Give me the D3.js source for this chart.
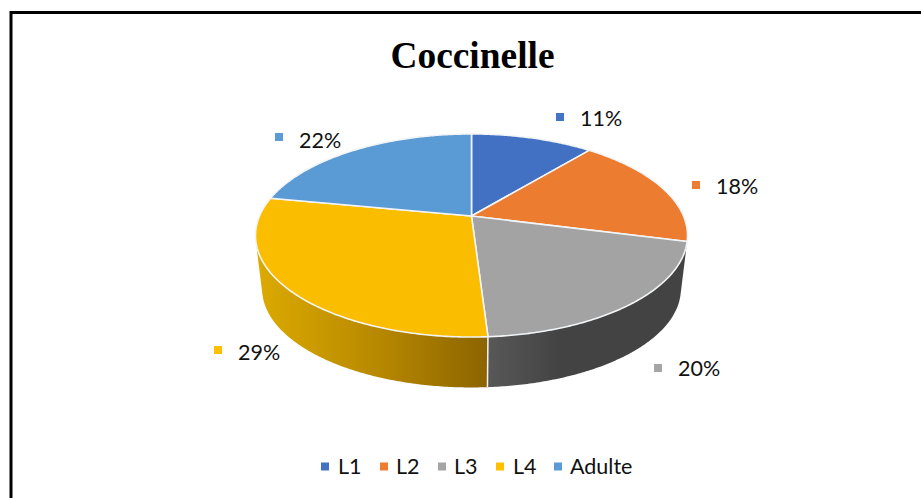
<!DOCTYPE html>
<html>
<head>
<meta charset="utf-8">
<style>
html,body{margin:0;padding:0;background:#fff}
svg{display:block}
</style>
<script src="https://cdn.jsdelivr.net/npm/d3@7"></script>
</head>
<body>
<svg id="c" width="921" height="498"></svg>
<script>
const titleText = "Coccinelle";
const categories = ["L1","L2","L3","L4","Adulte"];
const percents = [11,18,20,29,22];
const colors = ["#4472c4","#ed7d31","#a5a5a5","#ffc000","#5b9bd5"];
const topColors = ["#4270c2","#ec7c30","#a3a3a3","#fbbd00","#5a9ad5"];

const W = 921, H = 498;
const svg = d3.select("#c").attr("viewBox",[0,0,W,H]);

// Frame (left and top rules only are visible)
svg.append("path").attr("d","M11 498V12.5H921").attr("fill","none").attr("stroke","#000").attr("stroke-width",3);

// Pie angles from the data
const pie = d3.pie().sort(null).value(d=>d);
const arcs = pie(percents);

// Perspective projection of a tilted disc
const cx = 471.5, k = -0.192;
function proj(theta, ring){
  const X = Math.sin(theta), Y = -Math.cos(theta), den = 1 + k*Y;
  return ring === "top"
    ? [cx + 212*X/den, 216 + 97.8*Y/den]
    : [cx + 205.5*X/den, 270 + 94.9*Y/den];
}
function samples(a0,a1){
  const n = Math.max(2,Math.ceil((a1-a0)/0.01));
  return d3.range(n+1).map(i=>a0+(a1-a0)*i/n);
}
const line = d3.line();

// Defs: horizontal gradients on the rim
const defs = svg.append("defs");
function grad(id,x1,x2,stops){
  const g = defs.append("linearGradient").attr("id",id)
    .attr("gradientUnits","userSpaceOnUse")
    .attr("x1",x1).attr("x2",x2).attr("y1",0).attr("y2",0);
  stops.forEach(s=>g.append("stop").attr("offset",s[0]).attr("stop-color",s[1]));
}
grad("rimL4",257,488,[[0,"#dcaa00"],[0.5,"#b98a00"],[1,"#8c6400"]]);
grad("rimL3",488,560,[[0,"#585858"],[1,"#434343"]]);

// Rim: union of small quads between the two rings; each quad is wound the same way
function rimPath(a0,a1){
  const t = samples(a0,a1);
  let d = "";
  for(let i=0;i<t.length-1;i++){
    let q = [proj(t[i],"top"),proj(t[i+1],"top"),proj(t[i+1],"bottom"),proj(t[i],"bottom")];
    if(d3.polygonArea(q) < 0) q = q.reverse();
    d += line(q) + "Z";
  }
  return d;
}
const frontRims = [{i:2,fill:"url(#rimL3)"},{i:3,fill:"url(#rimL4)"}];
frontRims.forEach(r=>{
  svg.append("path").attr("d",rimPath(arcs[r.i].startAngle,arcs[r.i].endAngle)).attr("fill",r.fill);
});
// Seam between the two visible rim segments
svg.append("path")
  .attr("d",line([proj(arcs[3].startAngle,"top"),proj(arcs[3].startAngle,"bottom")]))
  .attr("stroke","#f4f4f4").attr("stroke-width",1.5).attr("fill","none");

// Top face
svg.append("g").selectAll("path").data(arcs).join("path")
  .attr("d",d=>{
    const pts = samples(d.startAngle,d.endAngle).map(t=>proj(t,"top"));
    return line([[cx,216],...pts]) + "Z";
  })
  .attr("fill",(d,i)=>topColors[i])
  .attr("stroke","#f2f5f7").attr("stroke-width",1.6).attr("stroke-linejoin","round");

// Data labels
const fontUI = "Lato, Carlito, 'Open Sans', sans-serif";
const labelAt = [[560,117],[696,185],[658,368],[218,350],[279,137]];
const labelTextY = [126,194,376,360,148];
const labels = svg.append("g");
percents.forEach((p,i)=>{
  labels.append("rect").attr("x",labelAt[i][0]-4).attr("y",labelAt[i][1]-4).attr("width",8).attr("height",8).attr("fill",colors[i]);
  labels.append("text").attr("x",labelAt[i][0]+20).attr("y",labelTextY[i])
    .attr("font-family",fontUI).attr("font-size",21.5).attr("fill","#111").text(p+"%");
});

// Legend
const legendX = [325,384,442,500,558];
const legendTextX = [338,396,454,513,570];
const legend = svg.append("g");
categories.forEach((c,i)=>{
  legend.append("rect").attr("x",legendX[i]-4).attr("y",462.5).attr("width",8).attr("height",8).attr("fill",colors[i]);
  legend.append("text").attr("x",legendTextX[i]).attr("y",474)
    .attr("font-family",fontUI).attr("font-size",21.5).attr("fill","#111").text(c);
});

// Title
svg.append("text").attr("x",472.5).attr("y",68).attr("text-anchor","middle")
  .attr("font-family","'Liberation Serif', serif").attr("font-weight","bold")
  .attr("font-size",37.4).attr("fill","#000").text(titleText);
</script>
</body>
</html>
